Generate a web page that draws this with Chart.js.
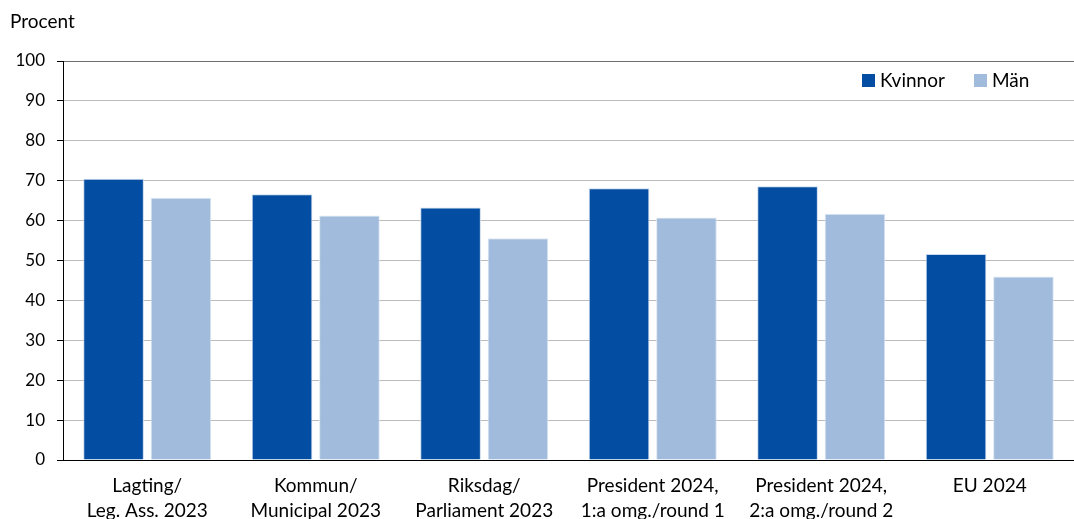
<!DOCTYPE html>
<html>
<head>
<meta charset="utf-8">
<script src="https://cdn.jsdelivr.net/npm/chart.js@4.4.1/dist/chart.umd.min.js"></script>
<style>
  html,body{margin:0;padding:0;background:#fff;overflow:hidden;}
</style>
</head>
<body>
<canvas id="c" width="1074" height="519"></canvas>
<script>
// values
const categories = [
  ['Lagting/', 'Leg. Ass. 2023'],
  ['Kommun/', 'Municipal 2023'],
  ['Riksdag/', 'Parliament 2023'],
  ['President 2024,', '1:a omg./round 1'],
  ['President 2024,', '2:a omg./round 2'],
  ['EU 2024']
];
const kvinnor = [70.5, 66.6, 63.3, 68.1, 68.6, 51.6];
const man = [65.7, 61.3, 55.6, 60.8, 61.7, 46.0];
const yTicks = [0, 10, 20, 30, 40, 50, 60, 70, 80, 90, 100];

const FONT = 'Lato, "Open Sans", sans-serif';
const DARK = '#034ea2';
const LIGHT = '#a0bbdb';

// legend inside plot + "Procent" label
const extras = {
  id: 'extras',
  afterDraw(chart){
    const c = chart.ctx;
    c.save();
    c.fillStyle = '#000';
    c.font = '19px ' + FONT;
    c.textBaseline = 'middle';
    c.textAlign = 'left';
    c.fillText('Procent', 10, 22);
    const xs = [862, 974];
    chart.data.datasets.forEach((ds, i) => {
      const x = xs[i], y = 80;
      c.fillStyle = ds.backgroundColor;
      c.fillRect(x, y - 6, 13, 13);
      c.fillStyle = '#000';
      c.fillText(ds.label, x + 18, y + 1);
    });
    c.restore();
  }
};

new Chart(document.getElementById('c'), {
  type: 'bar',
  data: {
    labels: categories,
    datasets: [
      {label: 'Kvinnor', data: kvinnor, backgroundColor: DARK, borderColor: '#c9d8ec', borderWidth: 1},
      {label: 'Män', data: man, backgroundColor: LIGHT, borderColor: '#dde7f3', borderWidth: 1}
    ]
  },
  options: {
    responsive: false,
    animation: false,
    layout: {padding: {top: 61, right: 0, left: 0, bottom: 0}},
    plugins: {legend: {display: false}, title: {display: false}, tooltip: {enabled: false}},
    scales: {
      x: {
        grid: {display: false},
        border: {display: true, color: '#000', width: 1},
        ticks: {color: '#000', font: {family: FONT, size: 19, lineHeight: 1.3}, padding: 6, maxRotation: 0, autoSkip: false},
        categoryPercentage: 0.82,
        barPercentage: 0.96,
        afterFit(s){ s.height = 59; s.paddingLeft = 0; s.paddingRight = 0; }
      },
      y: {
        min: 0, max: 100,
        afterBuildTicks(s){ s.ticks = yTicks.map(v => ({value: v})); },
        grid: {
          color: ctx => ctx.tick && ctx.tick.value === 100 ? '#6e6e6e' : '#bcbcbc',
          tickColor: '#000',
          tickLength: 6,
          lineWidth: 1
        },
        border: {display: true, color: '#000', width: 1},
        ticks: {color: '#000', font: {family: FONT, size: 17}, padding: 12},
        afterFit(s){ s.width = 63; }
      }
    }
  },
  plugins: [extras]
});
</script>
</body>
</html>
